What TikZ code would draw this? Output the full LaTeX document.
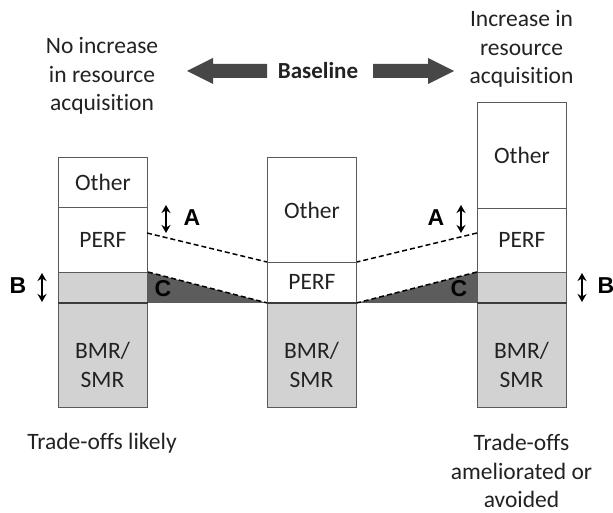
\documentclass[tikz,border=0pt]{standalone}
\usepackage{fontspec}
\setmainfont{Carlito}[Ligatures={NoCommon}]
\newfontfamily\labfont{Liberation Sans}
\usetikzlibrary{arrows.meta}
\definecolor{boxline}{HTML}{5A5A5A}
\definecolor{lightg}{HTML}{D2D2D2}
\definecolor{darkg}{HTML}{5C5C5C}
\definecolor{arrowg}{HTML}{474747}
\definecolor{txt}{HTML}{222222}
\definecolor{thickl}{HTML}{3C3C3C}
\tikzset{
  cell/.style={draw=boxline, line width=0.9pt, inner sep=0pt, minimum width=89pt,
    anchor=north west, font=\fontsize{23.5}{28}\selectfont, text=txt, align=center},
  greycell/.style={cell, fill=lightg},
  txtnode/.style={inner sep=0pt, font=\fontsize{23.5}{28.5}\selectfont, text=txt, align=center},
  letter/.style={inner sep=0pt, font=\labfont\bfseries\fontsize{23}{26}\selectfont, text=black},
  baseline line/.style={draw=thickl, line width=2.4pt},
  dashline/.style={draw=black, line width=1.5pt, dash pattern=on 5pt off 3pt},
  dbl/.style={draw=black, line width=2pt, {Stealth[length=8pt,width=9pt]}-{Stealth[length=8pt,width=9pt]}},
  fatarrow/.style={fill=arrowg}
}
\begin{document}
\begin{tikzpicture}[x=1pt,y=-1pt]
\useasboundingbox (0,0) rectangle (613,513);
\fill[white] (0,0) rectangle (613,513);

% top texts
\node[txtnode] (noinc) at (102,76) {No increase\\in resource\\acquisition};
\node[txtnode] (inc) at (521.5,49) {Increase in\\resource\\acquisition};
\node[inner sep=0pt, font=\bfseries\fontsize{23}{26}\selectfont, text=txt] (base) at (318,71) {Baseline};
\fill[fatarrow] (187,71) -- (213,58) -- (213,64) -- (267,64) -- (267,78) -- (213,78) -- (213,84) -- cycle;
\fill[fatarrow] (454,71) -- (428,58) -- (428,64) -- (373,64) -- (373,78) -- (428,78) -- (428,84) -- cycle;

% left column
\node[cell, minimum height=50pt] (LO) at (58,157) {Other};
\node[cell, minimum height=65pt] (LP) at (58,207) {PERF};
\node[greycell, minimum height=30pt] (LG) at (58,272) {};
\node[greycell, minimum height=105pt] (LB) at (58,302) {};
\node[txtnode] (LBt) at (102.5,365) {BMR/\\SMR};

% middle column
\node[cell, minimum height=105pt] (MO) at (267,157) {Other};
\node[cell, minimum height=40pt] (MP) at (267,262) {PERF};
\node[greycell, minimum height=105pt] (MB) at (267,302) {};
\node[txtnode] (MBt) at (311.5,365) {BMR/\\SMR};

% right column
\node[cell, minimum height=106pt] (RO) at (477,102) {Other};
\node[cell, minimum height=64pt] (RP) at (477,208) {PERF};
\node[greycell, minimum height=30pt] (RG) at (477,272) {};
\node[greycell, minimum height=105pt] (RB) at (477,302) {};
\node[txtnode] (RBt) at (521.5,365) {BMR/\\SMR};

% dark triangles C
\fill[darkg] (LG.north east) -- (LG.south east) -- (MP.south west) -- cycle;
\fill[darkg] (RG.north west) -- (RG.south west) -- (MP.south east) -- cycle;

% thick baselines
\draw[baseline line] (LG.south west) -- (LG.south east);
\draw[baseline line] (MP.south west) -- (MP.south east);
\draw[baseline line] (RG.south west) -- (RG.south east);

% dashed lines
\coordinate (la) at (147,233);
\coordinate (ra) at (477,233);
\draw[dashline] (la) -- (MP.north west);
\draw[dashline] (ra) -- (MP.north east);
\draw[dashline] (LG.north east) -- (MP.south west);
\draw[dashline] (RG.north west) -- (MP.south east);

% A arrows
\coordinate (a1t) at (166,205); \coordinate (a1b) at (166,233);
\coordinate (a2t) at (461,205); \coordinate (a2b) at (461,233);
\draw[dbl] (a1t) -- (a1b);
\draw[dbl] (a2t) -- (a2b);
\node[letter] (A1) at (192,218) {A};
\node[letter] (A2) at (436,218) {A};

% B arrows
\coordinate (b1t) at (42,273); \coordinate (b1b) at (42,302);
\coordinate (b2t) at (582,273); \coordinate (b2b) at (582,302);
\draw[dbl] (b1t) -- (b1b);
\draw[dbl] (b2t) -- (b2b);
\node[letter] (B1) at (18,286) {B};
\node[letter] (B2) at (606,286) {B};

% C labels
\node[letter] (C1) at (163,289) {C};
\node[letter] (C2) at (459,289) {C};

% bottom texts
\node[txtnode] (tl) at (102,443) {Trade-offs likely};
\node[txtnode] (ta) at (521.5,471) {Trade-offs\\ameliorated or\\avoided};
\end{tikzpicture}
\end{document}
